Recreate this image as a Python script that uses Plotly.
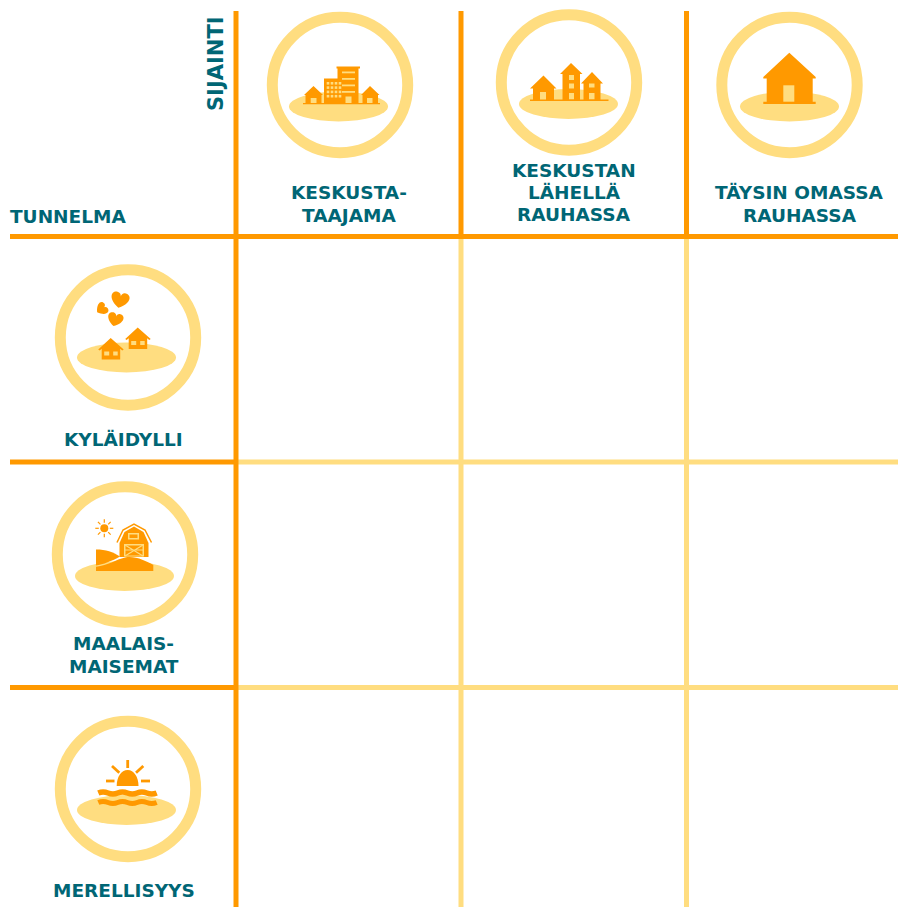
import math
import plotly.graph_objects as go

# ---- content ----
column_titles = [["KESKUSTA-", "TAAJAMA"], ["KESKUSTAN", "LÄHELLÄ", "RAUHASSA"], ["TÄYSIN OMASSA", "RAUHASSA"]]
row_titles = [["KYLÄIDYLLI"], ["MAALAIS-", "MAISEMAT"], ["MERELLISYYS"]]
column_axis_title = "SIJAINTI"
row_axis_title = "TUNNELMA"

# ---- layout constants (page pixels) ----
W, H = 898, 907
DARK, LIGHT, TEAL = "#FF9900", "#FFDD80", "#006675"
FONT = "DejaVu Sans"
FS = 18.5
col_x = [236, 461, 686.5]
row_y = [236.5, 462, 687.5]
col_rings = [(340, 85), (569, 82.5), (789.5, 85)]
row_rings = [(128, 337.5), (125, 554.5), (128, 789)]
col_ell = [(338.5, 106.5), (568.5, 104), (789.5, 106.5)]
row_ell = [(126.5, 357.5), (124.5, 576), (126.5, 810)]
col_text = [(349, [192, 215]), (574, [170, 192, 214]), (799.5, [192, 215])]
row_text = [(123, [439]), (123.5, [643, 666]), (123.5, [890.5])]

shapes = []


def line(x0, y0, x1, y1, color, width=5):
    shapes.append(dict(type="line", xref="x", yref="y", x0=x0, y0=y0, x1=x1, y1=y1,
                       line=dict(color=color, width=width)))


def fill(path, color=DARK):
    shapes.append(dict(type="path", xref="x", yref="y", path=path, fillcolor=color,
                       line=dict(width=0)))


def stroke(path, color=DARK, width=1.5):
    shapes.append(dict(type="path", xref="x", yref="y", path=path,
                       line=dict(color=color, width=width)))


def poly(points, color=DARK):
    fill("M" + " L".join(f"{x:.2f},{y:.2f}" for x, y in points) + " Z", color)


def rect(x0, y0, x1, y1, color=DARK):
    poly([(x0, y0), (x1, y0), (x1, y1), (x0, y1)], color)


def disc(cx, cy, rx, ry, color=LIGHT):
    shapes.append(dict(type="circle", xref="x", yref="y", x0=cx - rx, x1=cx + rx, y0=cy - ry,
                       y1=cy + ry, fillcolor=color, line=dict(width=0)))


def ring(cx, cy):
    shapes.append(dict(type="circle", xref="x", yref="y", x0=cx - 67.7, x1=cx + 67.7, y0=cy - 67.7,
                       y1=cy + 67.7, fillcolor="rgba(0,0,0,0)", line=dict(color=LIGHT, width=11)))


def heart(cx, cy, s, deg):
    a = math.radians(deg)
    c, si = math.cos(a), math.sin(a)

    def p(x, y):
        return f"{cx + s * (x * c - y * si):.2f},{cy + s * (x * si + y * c):.2f}"

    fill(f"M{p(0, 1)} C{p(-1.55, .1)} {p(-1.3, -.95)} {p(-.52, -.95)} "
         f"C{p(-.22, -.95)} {p(0, -.72)} {p(0, -.45)} C{p(0, -.72)} {p(.22, -.95)} {p(.52, -.95)} "
         f"C{p(1.3, -.95)} {p(1.55, .1)} {p(0, 1)} Z")


# ---- grid ----
for i in (1, 2):
    line(col_x[i], row_y[0], col_x[i], H, LIGHT)
    line(col_x[0], row_y[i], W, row_y[i], LIGHT)
for i in range(3):
    line(col_x[i], 11, col_x[i], row_y[0], DARK)
line(col_x[0], row_y[0], col_x[0], H, DARK)
line(10, row_y[0], W, row_y[0], DARK)
line(10, row_y[1], col_x[0], row_y[1], DARK)
line(10, row_y[2], col_x[0], row_y[2], DARK)

# ---- rings and ground ellipses ----
for (cx, cy) in col_rings + row_rings:
    ring(cx, cy)
for (cx, cy) in col_ell + row_ell:
    disc(cx, cy, 49.5, 15)

# ---- icon 1: city ----
poly([(304, 95), (313.5, 86), (323, 95), (321.5, 95), (321.5, 103.5), (305.5, 103.5), (305.5, 95)])
rect(310.7, 98, 316.5, 104, LIGHT)
poly([(361, 95), (370, 86), (379.5, 95), (378, 95), (378, 103.5), (362.5, 103.5), (362.5, 95)])
rect(367, 98, 372.5, 104, LIGHT)
rect(324, 78.5, 344, 103)
rect(336.5, 66.5, 360, 68.5)
rect(337.5, 67, 358.5, 103)
for y in (71.5, 78, 84.5, 91):
    rect(342, y, 355, y + 1.8, LIGHT)
rect(345.5, 96.5, 351.5, 104, LIGHT)
for wy in (82, 86.3, 90.6, 94.9):
    for wx in (326.7, 330.7, 334.7, 338.7):
        rect(wx, wy, wx + 2.6, wy + 2.6, LIGHT)
rect(303, 103, 380, 104.2)

# ---- icon 2: neighbourhood ----
poly([(530, 88.5), (543.5, 75.5), (556.5, 88.5), (554, 88.5), (554, 100), (533, 100), (533, 88.5)])
rect(540, 92, 546, 100, LIGHT)
poly([(560, 74), (571, 63), (582.5, 74), (580, 74), (580, 100), (562.5, 100), (562.5, 74)])
for wy, wh in ((75, 5), (83.5, 5), (93, 6.5)):
    rect(569, wy, 574, wy + wh, LIGHT)
poly([(581, 83.5), (592, 72), (603, 83.5), (600.5, 83.5), (600.5, 100), (583.5, 100), (583.5, 83.5)])
rect(589, 83.5, 594.5, 87.5, LIGHT)
rect(589, 93, 594.5, 99.5, LIGHT)
rect(530, 99.5, 608.5, 101)

# ---- icon 3: single house ----
poly([(789.3, 52.7), (815.7, 77), (815.7, 78.5), (812.7, 78.5), (812.7, 102), (766.7, 102), (766.7, 78.5),
      (763.3, 78.5), (763.3, 77)])
rect(763.3, 101.7, 815.7, 104)
rect(783.3, 85.3, 794.3, 101.7, LIGHT)

# ---- icon 4: village with hearts ----
heart(120, 300, 8, 12)
heart(101.7, 309, 5.6, 55)
heart(115.3, 319.5, 6.8, 15)
for ax, ay in ((110.7, 338), (137.7, 327.5)):
    poly([(ax, ay), (ax + 13, ay + 11.5), (ax + 11.5, ay + 12.5), (ax + 9.5, ay + 10.8), (ax + 9.5, ay + 21.5),
          (ax - 9, ay + 21.5), (ax - 9, ay + 10.8), (ax - 11, ay + 12.5), (ax - 12.5, ay + 11.5)])
    rect(ax - 6.5, ay + 13.5, ax - 1.5, ay + 17.5, LIGHT)
    rect(ax + 2.5, ay + 13.5, ax + 7, ay + 17.5, LIGHT)

# ---- icon 5: barn, hills and sun ----
disc(104.3, 528.3, 4, 4, DARK)
for deg in range(0, 360, 45):
    a = math.radians(deg)
    line(104.3 + 5.5 * math.cos(a), 528.3 + 5.5 * math.sin(a), 104.3 + 9 * math.cos(a), 528.3 + 9 * math.sin(a),
         DARK, 1.2)
stroke("M117,542.5 L123,530 L134,524 L145,530 L151.5,542.5", DARK, 1.5)
poly([(119.5, 557), (119.5, 543), (124.5, 532), (134, 526.5), (143.5, 532), (148.5, 543), (148.5, 557)])
rect(128, 533, 139, 539.5, LIGHT)
rect(129.5, 534.5, 137.5, 538, DARK)
rect(124, 544, 144, 556.5, LIGHT)
rect(125.5, 545.5, 142.5, 555.5, DARK)
stroke("M125,545 L143,556 M143,545 L125,556 M125,550 L143,550", LIGHT, 1.2)
fill("M96,549.5 C106,549.5 113,552 120,556.5 C112,561 103,564.5 96,565.5 Z")
fill("M96,566.8 C108,565.5 116,559.5 125,557.5 C135,555.5 146,561 153.3,565 L153.3,571 L96,571 Z")

# ---- icon 6: sunset over waves ----
fill("M116.7,786 C116.7,777 121,770 127.7,770 C134,770 138.5,777 138.5,786 Z")
line(127.7, 760, 127.7, 768, DARK, 2.8)
line(112, 766, 119.3, 772.7, DARK, 2.8)
line(143.3, 766, 136, 772.7, DARK, 2.8)
line(106, 781, 114.5, 781, DARK, 2.8)
line(141, 781, 150, 781, DARK, 2.8)
for wy, wd in ((793, 5.5), (802.5, 5)):
    stroke(f"M98.3,{wy} Q103,{wy - 2} 108,{wy} T117.7,{wy} T127.4,{wy} T137.1,{wy} T146.8,{wy} T156.7,{wy}", DARK, wd)

# ---- text ----
annotations = []


def label(text, x, y, angle=0, size=FS):
    annotations.append(dict(text=f"<b>{text}</b>", x=x, y=y, xref="x", yref="y", showarrow=False,
                            xanchor="center", yanchor="middle", textangle=angle,
                            font=dict(family=FONT, size=size, color=TEAL)))


for lines, (x, ys) in zip(column_titles + row_titles, col_text + row_text):
    for t, y in zip(lines, ys):
        label(t, x, y)
label(row_axis_title, 68, 216)
label(column_axis_title, 216, 64, -90, 21)

fig = go.Figure()
fig.update_layout(width=W, height=H, margin=dict(l=0, r=0, t=0, b=0), autosize=False,
                  paper_bgcolor="white", plot_bgcolor="white", showlegend=False,
                  xaxis=dict(visible=False, range=[0, W], fixedrange=True),
                  yaxis=dict(visible=False, range=[H, 0], fixedrange=True),
                  shapes=shapes, annotations=annotations)
fig.write_html("out.html", config=dict(displayModeBar=False),
               post_script="document.body.style.margin='0';document.body.style.overflow='hidden';")
